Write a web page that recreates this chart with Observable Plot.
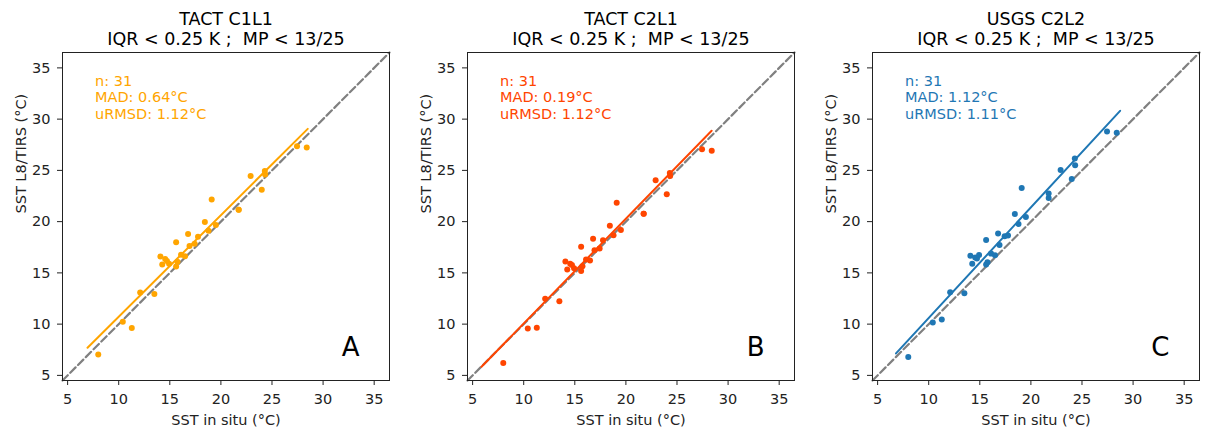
<!DOCTYPE html>
<html>
<head>
<meta charset="utf-8">
<script src="https://cdn.jsdelivr.net/npm/d3@7"></script>
<script src="https://cdn.jsdelivr.net/npm/@observablehq/plot@0.6"></script>
<style>
  html, body { margin: 0; padding: 0; background: #fff; overflow: hidden; }
  #wrap { position: relative; width: 1206px; height: 431px; }
  .panel { position: absolute; top: 0; }
  svg text { white-space: pre; }
</style>
</head>
<body>
<div id="wrap"></div>
<script>
// ---- data ----
const inSitu = [8.0, 10.4, 11.28, 12.1, 13.49, 14.08, 14.26, 14.55, 14.72, 14.93, 15.62, 15.62, 15.75, 16.1, 16.49,
  16.79, 16.93, 17.43, 17.76, 18.43, 18.79, 19.1, 19.51, 21.74, 21.74, 22.91, 24.0, 24.3, 24.33, 27.45, 28.4];
const satA = [7.04, 10.23, 9.61, 13.08, 12.95, 16.59, 15.81, 16.36, 16.16, 15.9, 17.98, 15.61, 16.08, 16.78, 16.62,
  18.8, 17.63, 17.83, 18.53, 19.96, 19.12, 22.17, 19.67, 21.16, 21.16, 24.44, 23.11, 24.93, 24.6, 27.36, 27.23];
const satB = [6.2, 9.58, 9.64, 12.47, 12.24, 16.1, 15.32, 15.9, 15.78, 15.45, 17.56, 15.19, 15.65, 16.3, 16.2,
  18.34, 17.21, 17.37, 18.18, 19.6, 18.67, 21.85, 19.19, 20.78, 20.78, 24.03, 22.66, 24.74, 24.45, 27.05, 26.92];
const satC = [6.79, 10.16, 10.45, 13.12, 13.02, 16.66, 15.9, 16.5, 16.4, 16.75, 18.21, 15.81, 16.04, 16.88, 16.72,
  18.83, 17.73, 18.57, 18.64, 20.75, 19.77, 23.28, 20.45, 22.3, 22.75, 25.03, 24.16, 26.17, 25.49, 28.8, 28.67];

// fitted regression line end points [x, y]
const fitA = [[6.95, 7.7], [28.5, 29.05]];
const fitB = [[5.87, 5.84], [28.39, 28.86]];
const fitC = [[6.8, 7.14], [28.73, 30.81]];

const titles = ["TACT C1L1", "TACT C2L1", "USGS C2L2"];
const subtitle = "IQR < 0.25 K ;  MP < 13/25";
const statsN = ["n: 31", "n: 31", "n: 31"];
const statsMAD = ["MAD: 0.64°C", "MAD: 0.19°C", "MAD: 1.12°C"];
const statsURMSD = ["uRMSD: 1.12°C", "uRMSD: 1.12°C", "uRMSD: 1.11°C"];
const letters = ["A", "B", "C"];
const colors = ["#FFA500", "#FF4500", "#1f77b4"];
const axisTicks = [5, 10, 15, 20, 25, 30, 35];
const axisDomain = [4.5, 36.5];
const xLabel = "SST in situ (°C)";
const yLabel = "SST L8/TIRS (°C)";

const sats = [satA, satB, satC];
const fits = [fitA, fitB, fitC];
const lefts = [0, 405, 810];
const widths = [402, 402, 396];
const FONT = "DejaVu Sans, Liberation Sans, sans-serif";

function panel(i) {
  const pts = inSitu.map((x, k) => ({x, y: sats[i][k]}));
  const identity = axisDomain.map(v => ({x: v, y: v}));
  const fit = fits[i].map(([x, y]) => ({x, y}));
  const col = colors[i];
  return Plot.plot({
    width: widths[i],
    height: 431,
    marginLeft: 62,
    marginRight: widths[i] - 62 - 327,
    marginTop: 52,
    marginBottom: 51,
    style: {fontFamily: FONT, fontSize: "14.5px", color: "#000", background: "#fff"},
    x: {domain: axisDomain, ticks: axisTicks},
    y: {domain: axisDomain, ticks: axisTicks},
    marks: [
      Plot.line(identity, {x: "x", y: "y", stroke: "#808080", strokeWidth: 2.2, strokeDasharray: "7.5,3.5"}),
      Plot.dot(pts, {x: "x", y: "y", r: 3, fill: col, stroke: "none"}),
      Plot.line(fit, {x: "x", y: "y", stroke: col, strokeWidth: 2}),
      Plot.frame({stroke: "#222", strokeWidth: 1}),
      Plot.axisX({ticks: axisTicks, tickSize: 5, tickPadding: 8, fontSize: 14.5, label: null, stroke: "#222", fill: "#222"}),
      Plot.axisY({ticks: axisTicks, tickSize: 5, tickPadding: 7, fontSize: 14.5, label: null, stroke: "#222", fill: "#222"}),
      Plot.text([titles[i]], {frameAnchor: "top", lineAnchor: "bottom", dy: -27.7, fontSize: 17.5, fill: "#000"}),
      Plot.text([subtitle], {frameAnchor: "top", lineAnchor: "bottom", dy: -8, fontSize: 17.5, fill: "#000"}),
      Plot.text([[statsN[i], statsMAD[i], statsURMSD[i]].join("\n")], {
        frameAnchor: "top-left", textAnchor: "start", lineAnchor: "top", lineHeight: 1.15,
        dx: 32.5, dy: 21.2, fontSize: 14.5, fill: col
      }),
      Plot.text([letters[i]], {frameAnchor: "bottom-right", textAnchor: "end", lineAnchor: "bottom",
        dx: -30, dy: -24.3, fontSize: 26, fill: "#000"}),
      Plot.text([xLabel], {frameAnchor: "bottom", lineAnchor: "bottom", dy: 44, fontSize: 14.5, fill: "#222"}),
      Plot.text([yLabel], {frameAnchor: "left", lineAnchor: "bottom", rotate: -90, dx: -37, dy: -3, fontSize: 14.5, fill: "#222"})
    ]
  });
}

const wrap = document.getElementById("wrap");
for (let i = 0; i < 3; i++) {
  const d = document.createElement("div");
  d.className = "panel";
  d.style.left = lefts[i] + "px";
  d.appendChild(panel(i));
  wrap.appendChild(d);
}
</script>
</body>
</html>
